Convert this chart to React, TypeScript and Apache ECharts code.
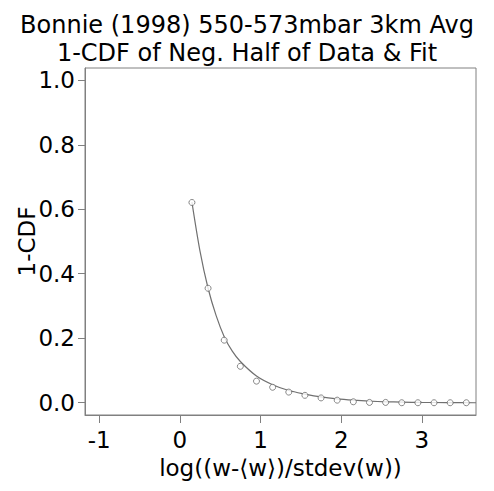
import React, { useEffect, useRef } from "react";
import * as echarts from "echarts";

const titleLines = ["Bonnie (1998) 550-573mbar 3km Avg", "1-CDF of Neg. Half of Data & Fit"];
const xTicks = [-1, 0, 1, 2, 3];
const yTicks = [0, 0.2, 0.4, 0.6, 0.8, 1.0];

const dataX = [0.15, 0.35, 0.55, 0.75, 0.95, 1.15, 1.35, 1.55, 1.75, 1.95, 2.15, 2.35, 2.55, 2.75, 2.95, 3.15, 3.35, 3.55];
const dataY = [0.621, 0.355, 0.194, 0.113, 0.067, 0.048, 0.033, 0.023, 0.015, 0.008, 0.003, 0.001, 0.001, 0.0, 0.0, 0.0, 0.0, 0.0];

const fitX = [0.15, 0.25, 0.35, 0.45, 0.55, 0.65, 0.75, 0.95, 1.15, 1.35, 1.55, 1.75, 1.95, 2.15, 2.35, 2.55, 2.75, 3.0, 3.3, 3.67];
const fitY = [0.622, 0.47, 0.355, 0.27, 0.205, 0.16, 0.128, 0.083, 0.056, 0.038, 0.027, 0.018, 0.012, 0.008, 0.005, 0.003, 0.002, 0.001, 0.0005, 0.0];

export default function App() {
  const ref = useRef<HTMLDivElement>(null);
  useEffect(() => {
    document.body.style.margin = "0";
    const chart = echarts.init(ref.current!, null, { renderer: "svg" });
    const font = "DejaVu Sans";
    const axisColor = "#808080";
    const fs = 23;
    chart.setOption({
      animation: false,
      backgroundColor: "#ffffff",
      title: {
        text: titleLines.join("\n"),
        left: "center",
        top: 6,
        textStyle: { fontFamily: font, fontSize: 24, fontWeight: "normal", color: "#000", lineHeight: 28 },
      },
      grid: {
        left: 85,
        top: 68,
        right: 18,
        bottom: 76,
        show: true,
        borderColor: axisColor,
        borderWidth: 1,
        containLabel: false,
      },
      xAxis: {
        type: "value",
        min: -1.175,
        max: 3.67,
        name: "log((w-⟨w⟩)/stdev(w))",
        nameLocation: "middle",
        nameGap: 41,
        nameTextStyle: { fontFamily: font, fontSize: fs, color: "#000" },
        axisLine: { show: true, onZero: false, lineStyle: { color: axisColor, width: 1 } },
        axisTick: { show: true, length: 8, customValues: xTicks, lineStyle: { color: axisColor } },
        axisLabel: {
          customValues: xTicks,
          margin: 13,
          fontFamily: font,
          fontSize: fs,
          color: "#000",
          formatter: (v: number) => String(v),
        },
        splitLine: { show: false },
      },
      yAxis: {
        type: "value",
        min: -0.038,
        max: 1.038,
        name: "1-CDF",
        nameLocation: "middle",
        nameGap: 47,
        nameMoveOverlap: false,
        nameTextStyle: { fontFamily: font, fontSize: fs, color: "#000" },
        axisLine: { show: true, onZero: false, lineStyle: { color: axisColor, width: 1 } },
        axisTick: { show: true, length: 7, customValues: yTicks, lineStyle: { color: axisColor } },
        axisLabel: {
          customValues: yTicks,
          margin: 10,
          fontFamily: font,
          fontSize: fs,
          color: "#000",
          formatter: (v: number) => v.toFixed(1),
        },
        splitLine: { show: false },
      },
      series: [
        {
          type: "line",
          data: fitX.map((x, i) => [x, fitY[i]]),
          smooth: 0.3,
          showSymbol: false,
          lineStyle: { color: "#707070", width: 1.2 },
          z: 2,
        },
        {
          type: "scatter",
          data: dataX.map((x, i) => [x, dataY[i]]),
          symbol: "circle",
          symbolSize: 6,
          itemStyle: { color: "#ffffff", borderColor: "#6a6a6a", borderWidth: 1 },
          z: 3,
        },
      ],
    });
    return () => chart.dispose();
  }, []);
  return <div ref={ref} style={{ width: 494, height: 491 }} />;
}
